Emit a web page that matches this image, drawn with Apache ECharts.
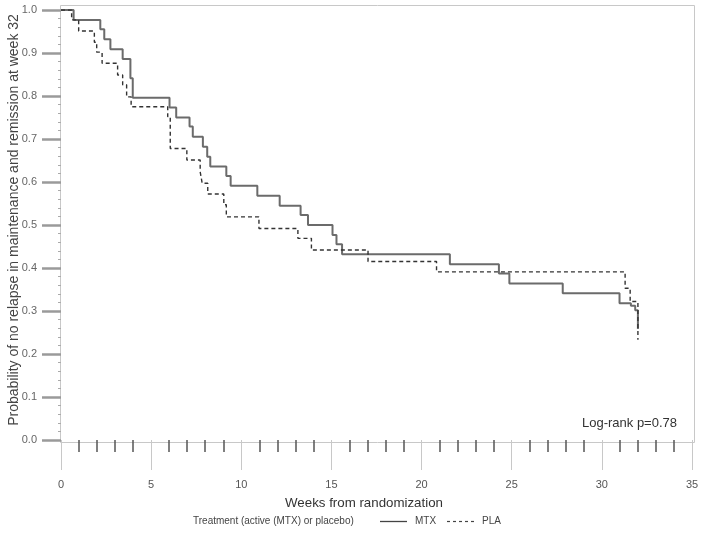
<!DOCTYPE html>
<html><head><meta charset="utf-8">
<script src="https://cdn.jsdelivr.net/npm/echarts@6.0.0/dist/echarts.min.js"></script>
<style>html,body{margin:0;padding:0;background:#fff}#c{width:708px;height:533px}</style>
</head><body><div id="c"></div>
<script>
// Kaplan-Meier step data (weeks, survival probability after the step)
const mtxWeeks = [0, 0.70, 2.18, 2.40, 2.74, 3.42, 3.85, 3.98, 6.02, 6.39, 7.13, 7.31, 7.87, 8.11, 8.28, 9.17, 9.41, 10.89, 12.13, 13.29, 13.70, 15.06, 15.28, 15.59, 21.57, 24.29, 24.87, 27.83, 30.98, 31.61, 31.85, 32.0];
const mtxSurv  = [1.0, 0.977, 0.955, 0.932, 0.909, 0.886, 0.841, 0.796, 0.773, 0.750, 0.729, 0.705, 0.682, 0.659, 0.636, 0.614, 0.591, 0.568, 0.545, 0.523, 0.500, 0.477, 0.455, 0.432, 0.409, 0.387, 0.364, 0.341, 0.318, 0.312, 0.302, 0.258];
const plaWeeks = [0, 0.59, 0.98, 1.85, 1.98, 2.28, 3.14, 3.42, 3.64, 3.89, 5.92, 6.06, 6.98, 7.72, 7.83, 8.14, 9.03, 9.17, 10.98, 13.14, 13.89, 17.03, 20.83, 31.29, 31.57, 32.0];
const plaSurv  = [1.0, 0.977, 0.951, 0.925, 0.902, 0.876, 0.849, 0.826, 0.798, 0.775, 0.752, 0.678, 0.651, 0.624, 0.597, 0.572, 0.547, 0.519, 0.492, 0.469, 0.442, 0.415, 0.391, 0.353, 0.322, 0.233];
const seriesNames = ['MTX', 'PLA'];
const xTickLabels = [0, 5, 10, 15, 20, 25, 30, 35];
const yTickLabels = [0.0, 0.1, 0.2, 0.3, 0.4, 0.5, 0.6, 0.7, 0.8, 0.9, 1.0];

const chart = echarts.init(document.getElementById('c'), null, {renderer: 'canvas'});
const font = '"Liberation Sans", Arial, sans-serif';
const toPairs = (xs, ys) => xs.map((x, i) => [x, ys[i]]);
const mtxColor = '#6b6b6b', plaColor = '#333';

chart.setOption({
  animation: false,
  backgroundColor: '#fff',
  grid: {left: 61, right: 16, top: 10, bottom: 93, containLabel: false},
  xAxis: {
    type: 'value',
    min: xTickLabels[0], max: xTickLabels[xTickLabels.length - 1], interval: 5,
    offset: 3,
    axisLine: {show: false},
    axisTick: {show: true, length: 30, lineStyle: {color: '#c8c8c8', width: 1}},
    minorTick: {show: true, splitNumber: 5, length: 12, lineStyle: {color: '#555', width: 1.5}},
    splitLine: {show: false},
    axisLabel: {margin: 36, color: '#555', fontFamily: font, fontSize: 11}
  },
  yAxis: {
    type: 'value',
    min: 0, max: 1, interval: 0.1,
    offset: 1,
    axisLine: {show: false},
    axisTick: {show: true, length: 19, lineStyle: {color: '#9a9a9a', width: 2.5}},
    minorTick: {show: true, splitNumber: 5, length: 3, lineStyle: {color: '#aaa', width: 1}},
    splitLine: {show: false},
    axisLabel: {margin: 23, color: '#666', fontFamily: font, fontSize: 11,
      formatter: v => yTickLabels.some(t => Math.abs(t - v) < 1e-6) ? v.toFixed(1) : ''}
  },
  series: [
    {name: seriesNames[0], type: 'line', step: 'end', showSymbol: false, symbol: 'none',
     data: toPairs(mtxWeeks, mtxSurv),
     lineStyle: {color: mtxColor, width: 2, type: 'solid'}, itemStyle: {color: mtxColor}},
    {name: seriesNames[1], type: 'line', step: 'end', showSymbol: false, symbol: 'none',
     data: toPairs(plaWeeks, plaSurv),
     lineStyle: {color: plaColor, width: 1.4, type: [4, 3]}, itemStyle: {color: plaColor}}
  ],
  graphic: [
    {type: 'rect', silent: true, z: -1, shape: {x: 60.5, y: 5.5, width: 634, height: 437},
     style: {fill: 'none', stroke: '#c8c8c8', lineWidth: 1}},
    {type: 'text', x: 14, y: 220, rotation: Math.PI / 2,
     style: {text: 'Probability of no relapse in maintenance and remission at week 32',
       font: '14px ' + font, fill: '#444', align: 'center', verticalAlign: 'middle',
       textAlign: 'center', textVerticalAlign: 'middle'}},
    {type: 'text', x: 364, y: 503,
     style: {text: 'Weeks from randomization', font: '13.3px ' + font, fill: '#333',
       align: 'center', verticalAlign: 'middle', textAlign: 'center', textVerticalAlign: 'middle'}},
    {type: 'text', x: 677, y: 423,
     style: {text: 'Log-rank p=0.78', font: '13px ' + font, fill: '#333',
       align: 'right', verticalAlign: 'middle', textAlign: 'right', textVerticalAlign: 'middle'}},
    {type: 'text', x: 193, y: 521,
     style: {text: 'Treatment (active (MTX) or placebo)', font: '10px ' + font, fill: '#444',
       align: 'left', verticalAlign: 'middle', textAlign: 'left', textVerticalAlign: 'middle'}},
    {type: 'line', shape: {x1: 380, y1: 521.5, x2: 407, y2: 521.5},
     style: {stroke: '#444', lineWidth: 1.3}},
    {type: 'text', x: 415, y: 521,
     style: {text: seriesNames[0], font: '10px ' + font, fill: '#444',
       align: 'left', verticalAlign: 'middle', textAlign: 'left', textVerticalAlign: 'middle'}},
    {type: 'line', shape: {x1: 447, y1: 521.5, x2: 474, y2: 521.5},
     style: {stroke: '#444', lineWidth: 1.2, lineDash: [3, 3]}},
    {type: 'text', x: 482, y: 521,
     style: {text: seriesNames[1], font: '10px ' + font, fill: '#444',
       align: 'left', verticalAlign: 'middle', textAlign: 'left', textVerticalAlign: 'middle'}}
  ]
});
</script>
</body></html>
